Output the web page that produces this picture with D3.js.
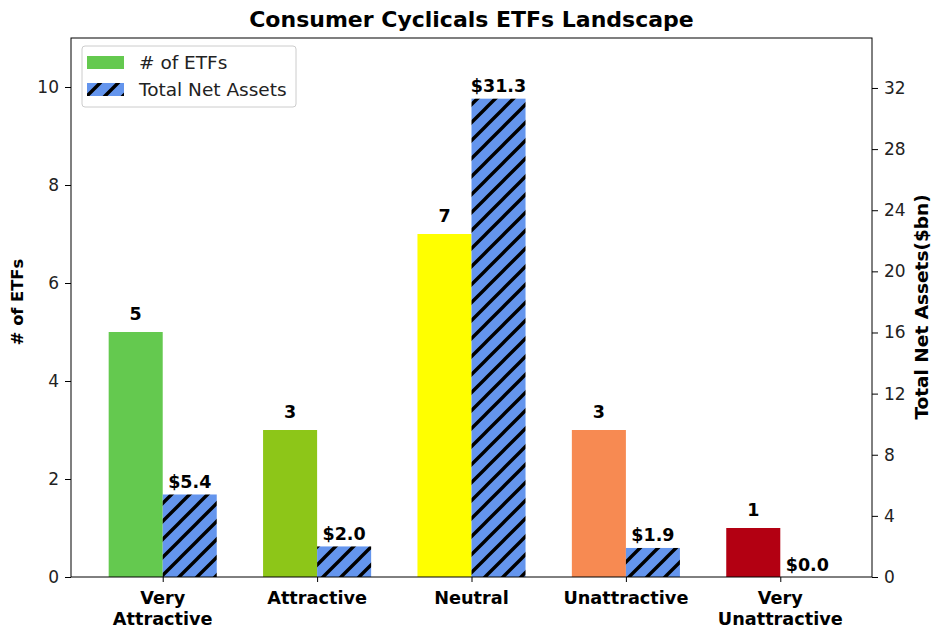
<!DOCTYPE html>
<html>
<head>
<meta charset="utf-8">
<script src="https://cdn.jsdelivr.net/npm/d3@7"></script>
<style>
  body { margin: 0; background: #fff; }
  text { font-family: "DejaVu Sans", sans-serif; fill: #222; }
</style>
</head>
<body>
<svg id="chart" width="935" height="631"></svg>
<script>
'use strict';

const categories = ["Very\nAttractive", "Attractive", "Neutral", "Unattractive", "Very\nUnattractive"];
const etfCounts = [5, 3, 7, 3, 1];
const netAssets = [5.4, 2.0, 31.3, 1.9, 0.0];
const barColors = ["#64c94f", "#8dc618", "#ffff00", "#f78a52", "#b30012"];
const leftTicks = [0, 2, 4, 6, 8, 10];
const rightTicks = [0, 4, 8, 12, 16, 20, 24, 28, 32];

const margin = {left: 71, right: 63, top: 38, bottom: 54};
const W = 935, H = 631;
const svg = d3.select("#chart");

const x = d3.scaleLinear()
  .domain([-0.594, 4.594])
  .range([margin.left, W - margin.right]);
const yL = d3.scaleLinear().domain([0, 11]).range([H - margin.bottom, margin.top]);
const yR = d3.scaleLinear().domain([0, 35.27]).range([H - margin.bottom, margin.top]);
const bw = 0.35;

// hatch pattern
const defs = svg.append("defs");
const pat = defs.append("pattern")
  .attr("id", "hatch")
  .attr("patternUnits", "userSpaceOnUse")
  .attr("width", 18).attr("height", 18);
pat.append("rect").attr("width", 18).attr("height", 18).attr("fill", "#6495ed");
pat.append("path")
  .attr("d", "M-4.5,4.5 L4.5,-4.5 M0,18 L18,0 M13.5,22.5 L22.5,13.5")
  .attr("stroke", "#000").attr("stroke-width", 3.4);

const idx = d3.range(categories.length);

// count bars
svg.append("g").selectAll("rect")
  .data(idx)
  .enter()
  .append("rect")
  .attr("x", i => x(i - bw))
  .attr("width", x(bw) - x(0))
  .attr("y", i => yL(etfCounts[i]))
  .attr("height", i => yL(0) - yL(etfCounts[i]))
  .attr("fill", i => barColors[i]);

// net asset bars
svg.append("g").selectAll("rect")
  .data(idx)
  .enter()
  .append("rect")
  .attr("x", i => x(i))
  .attr("width", x(bw) - x(0))
  .attr("y", i => yR(netAssets[i]))
  .attr("height", i => yR(0) - yR(netAssets[i]))
  .attr("fill", "url(#hatch)");

// value labels
svg.append("g").selectAll("text")
  .data(idx)
  .enter()
  .append("text")
  .attr("x", i => x(i - bw / 2))
  .attr("y", i => yL(etfCounts[i]) - 12)
  .attr("text-anchor", "middle")
  .attr("font-size", 17.5).attr("font-weight", "bold")
  .style("fill", "#000")
  .text(i => etfCounts[i]);

svg.append("g").selectAll("text")
  .data(idx)
  .enter()
  .append("text")
  .attr("x", i => x(i + bw / 2))
  .attr("y", i => yR(netAssets[i]) - 6.5)
  .attr("text-anchor", "middle")
  .attr("font-size", 17.5).attr("font-weight", "bold")
  .style("fill", "#000")
  .text(i => "$" + netAssets[i].toFixed(1));

// axes
const axL = svg.append("g")
  .attr("transform", `translate(${margin.left},0)`)
  .call(d3.axisLeft(yL).tickValues(leftTicks).tickSize(6).tickPadding(6));
const axR = svg.append("g")
  .attr("transform", `translate(${W - margin.right},0)`)
  .call(d3.axisRight(yR).tickValues(rightTicks).tickSize(6).tickPadding(6));
const axB = svg.append("g")
  .attr("transform", `translate(0,${H - margin.bottom})`)
  .call(d3.axisBottom(x).tickValues(idx).tickSize(5).tickFormat(""));

[axL, axR, axB].forEach(a => {
  a.select(".domain").remove();
  a.selectAll("line").attr("stroke", "#000");
  a.selectAll("text").attr("font-size", 17).style("font-family", "DejaVu Sans").style("fill", "#222");
});

// x labels, two lines
const xl = svg.append("g").selectAll("text")
  .data(idx)
  .enter()
  .append("text")
  .attr("text-anchor", "middle")
  .attr("font-size", 17.7).attr("font-weight", "bold")
  .style("fill", "#000")
  .attr("transform", i => `translate(${x(i)},603.5)`);
xl.each(function(i) {
  const lines = categories[i].split("\n");
  d3.select(this).selectAll("tspan")
    .data(lines)
    .enter()
    .append("tspan")
    .attr("x", 0)
    .attr("dy", (d, k) => k === 0 ? 0 : 21)
    .text(d => d);
});

// frame
svg.append("rect")
  .attr("x", margin.left).attr("y", margin.top)
  .attr("width", W - margin.left - margin.right)
  .attr("height", H - margin.top - margin.bottom)
  .attr("fill", "none").attr("stroke", "#000").attr("stroke-width", 1);

// title + axis labels
svg.append("text")
  .attr("x", (margin.left + W - margin.right) / 2).attr("y", 27)
  .attr("text-anchor", "middle")
  .attr("font-size", 22).attr("font-weight", "bold")
  .style("fill", "#000")
  .text("Consumer Cyclicals ETFs Landscape");

svg.append("text")
  .attr("transform", "translate(23,302) rotate(-90)")
  .attr("text-anchor", "middle")
  .attr("font-size", 16.3).attr("font-weight", "bold")
  .style("fill", "#000")
  .text("# of ETFs");

svg.append("text")
  .attr("transform", "translate(928,307) rotate(-90)")
  .attr("text-anchor", "middle")
  .attr("font-size", 18.5).attr("font-weight", "bold")
  .style("fill", "#000")
  .text("Total Net Assets($bn)");

// legend
const lg = svg.append("g").attr("transform", "translate(82,46)");
lg.append("rect")
  .attr("width", 214).attr("height", 61).attr("rx", 3)
  .attr("fill", "#fff").attr("stroke", "#ccc");
const legendItems = [
  {label: "# of ETFs", fill: barColors[0]},
  {label: "Total Net Assets", fill: "url(#hatch)"}
];
const li = lg.selectAll("g")
  .data(legendItems)
  .enter()
  .append("g")
  .attr("transform", (d, k) => `translate(0,${10 + k * 27})`);
li.append("rect")
  .attr("x", 5).attr("width", 37).attr("height", 13)
  .attr("fill", d => d.fill);
li.append("text")
  .attr("x", 57).attr("y", 13)
  .attr("font-size", 18.5)
  .style("fill", "#222")
  .text(d => d.label);
</script>
</body>
</html>
